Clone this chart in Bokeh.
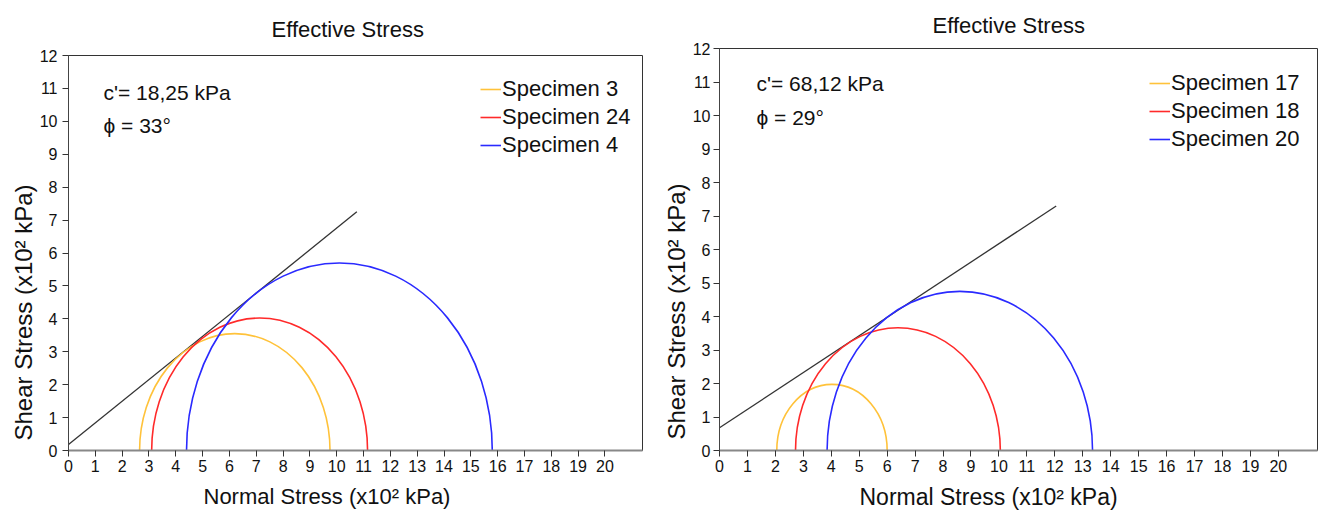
from bokeh.plotting import figure
from bokeh.layouts import row, column
from bokeh.models import (Range1d, FixedTicker, Label, Legend, LegendItem,
                          ColumnDataSource, Title)
from bokeh.embed import file_html
from bokeh.resources import INLINE

# ---- data (stresses in x10^2 kPa) ----
left_names = ["Specimen 3", "Specimen 24", "Specimen 4"]
left_sigma3 = [2.65, 3.10, 4.40]
left_sigma1 = [9.75, 11.15, 15.80]
left_env_x = [0.0, 10.75]
left_env_y = [0.18, 7.25]
left_c_text = "c'= 18,25 kPa"
left_phi_text = "ϕ = 33°"

right_names = ["Specimen 17", "Specimen 18", "Specimen 20"]
right_sigma3 = [2.05, 2.72, 3.85]
right_sigma1 = [6.00, 10.05, 13.35]
right_env_x = [0.0, 12.05]
right_env_y = [0.68, 7.30]
right_c_text = "c'= 68,12 kPa"
right_phi_text = "ϕ = 29°"

x_ticks = list(range(0, 21))
y_ticks = list(range(0, 13))
title_text = "Effective Stress"
x_label = "Normal Stress (x10² kPa)"
y_label = "Shear Stress (x10² kPa)"

colors = ["#FFC23A", "#FF2A2A", "#2A2AFF"]
FONT = "Liberation Sans"
TXT = "#111111"


def make_title(text, size, offset, standoff):
    return Title(text=text, align="left", offset=offset, standoff=standoff,
                 text_font=FONT, text_font_size=size, text_font_style="normal",
                 text_color=TXT)


def make_panel(names, s3, s1, env_x, env_y, c_text, phi_text, width, borders,
               legend_loc, text_pos, title_adj, xlab_adj, ylab_adj, ytick_standoff):
    bl, br, bt, bb = borders
    p = figure(width=width, height=516, x_range=Range1d(0, 21.4), y_range=Range1d(0, 12),
               output_backend="svg", toolbar_location=None, title=None,
               min_border_left=bl, min_border_right=br, min_border_top=bt, min_border_bottom=bb)

    p.xgrid.visible = False
    p.ygrid.visible = False
    p.outline_line_color = "#333333"
    p.outline_line_width = 1
    p.background_fill_color = "white"
    p.border_fill_color = "white"

    p.xaxis.ticker = FixedTicker(ticks=x_ticks)
    p.yaxis.ticker = FixedTicker(ticks=y_ticks)
    for ax in (p.xaxis[0], p.yaxis[0]):
        ax.major_tick_out = 6
        ax.major_tick_in = 0
        ax.minor_tick_out = 0
        ax.minor_tick_in = 0
        ax.major_label_text_font = FONT
        ax.major_label_text_font_size = "16px"
        ax.major_label_text_color = TXT
        ax.major_tick_line_color = "#333333"
    p.xaxis.axis_line_color = "#888888"
    p.xaxis.axis_line_width = 2
    p.xaxis.major_label_standoff = 3
    p.yaxis.axis_line_color = "#444444"
    p.yaxis.major_label_standoff = ytick_standoff

    # titles (top title, x-axis title, y-axis title)
    p.add_layout(make_title(title_text, "22px", *title_adj), "above")
    p.add_layout(make_title(x_label, xlab_adj[2], xlab_adj[0], xlab_adj[1]), "below")
    p.add_layout(make_title(y_label, "24px", *ylab_adj), "left")

    # failure envelope
    p.line(x=env_x, y=env_y, line_color="#333333", line_width=1.3)

    # Mohr circles (upper halves; lower halves clipped by frame)
    centers = [(a + b) / 2 for a, b in zip(s3, s1)]
    diam = [b - a for a, b in zip(s3, s1)]
    src = ColumnDataSource(dict(x=centers, y=[0.0] * len(centers), w=diam, h=diam, c=colors))
    p.ellipse(x="x", y="y", width="w", height="h", source=src,
              fill_color=None, line_color="c", line_width=1.6)

    items = []
    for nm, col in zip(names, colors):
        r = p.line(x=[float("nan")], y=[float("nan")], line_color=col, line_width=1.6)
        items.append(LegendItem(label=nm, renderers=[r]))
    leg = Legend(items=items, location=legend_loc, border_line_color=None,
                 background_fill_alpha=0, padding=0, margin=0, spacing=2,
                 glyph_width=21, glyph_height=20, label_height=20, label_standoff=1,
                 label_text_font=FONT, label_text_font_size="22px", label_text_color=TXT)
    p.add_layout(leg)

    (cx, cy), (fx, fy) = text_pos
    for tx, ty, t in ((cx, cy, c_text), (fx, fy, phi_text)):
        p.add_layout(Label(x=tx, y=ty, x_units="screen", y_units="screen", text=t,
                           text_font=FONT, text_font_size="21px", text_baseline="middle",
                           text_color=TXT))
    return p


p1 = make_panel(left_names, left_sigma3, left_sigma1, left_env_x, left_env_y,
                left_c_text, left_phi_text, 660, (68, 18, 55, 66),
                (412, 292), ((35, 358), (35, 325)),
                (203, 27), (135, 14, "22px"), (10, 0), 5)
p2 = make_panel(right_names, right_sigma3, right_sigma1, right_env_x, right_env_y,
                right_c_text, right_phi_text, 659, (58, 2, 47, 65),
                (430, 298), ((37, 367), (37, 333)),
                (213, 21), (140, 14, "23px"), (11, 0), 3)

layout = row(column(p1), column(p2), spacing=0)
open("out.html", "w").write(file_html(layout, INLINE))
